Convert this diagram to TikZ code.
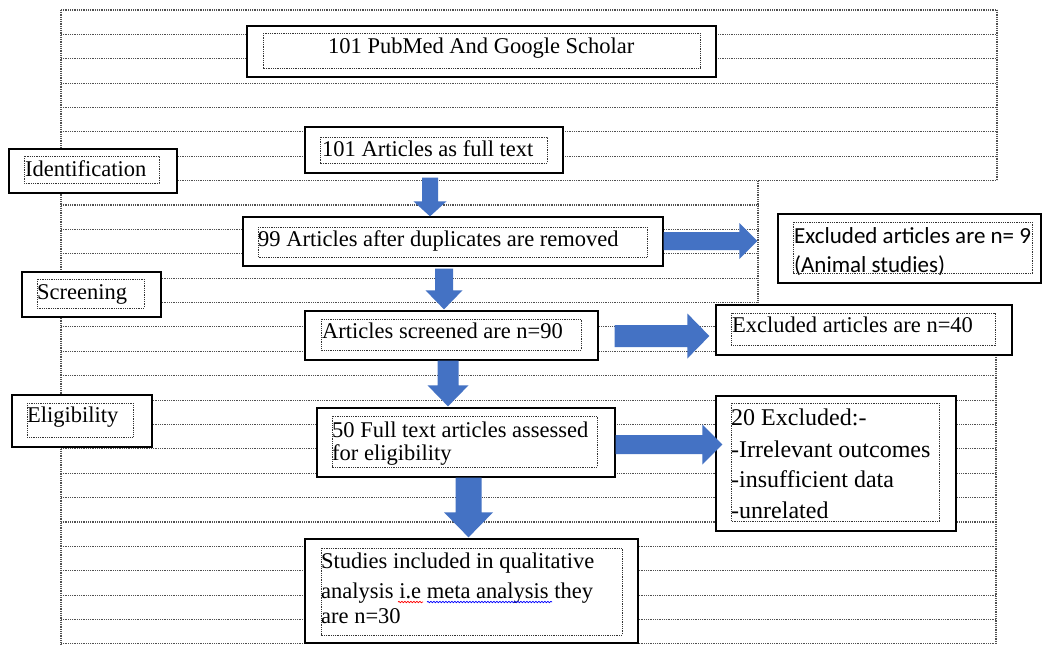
\documentclass[tikz,border=0pt]{standalone}
\usepackage{fontspec}
\setmainfont{Liberation Serif}
\newfontfamily\calibrifont{Carlito}
\usetikzlibrary{calc,decorations.pathmorphing}
\definecolor{arrowblue}{HTML}{4472C4}
\definecolor{ruleg}{HTML}{505050}
\newcommand\myvarrow[5]{\fill[arrowblue] let \p1=(#1), \p2=(#2) in (\x2-#3,\y1) -- (\x2-#3,\y2+#5) -- (\x2-#4,\y2+#5) -- (\x2,\y2) -- (\x2+#4,\y2+#5) -- (\x2+#3,\y2+#5) -- (\x2+#3,\y1) -- cycle;}
\newcommand\myharrow[5]{\fill[arrowblue] let \p1=(#1), \p2=(#2) in (\x1,\y2+#3) -- (\x2-#5,\y2+#3) -- (\x2-#5,\y2+#4) -- (\x2,\y2) -- (\x2-#5,\y2-#4) -- (\x2-#5,\y2-#3) -- (\x1,\y2-#3) -- cycle;}
\tikzset{
  ruleline/.style={draw=ruleg, line width=1.1pt, dash pattern=on 1pt off 0.8pt},
  innerdot/.style={draw=black!80, line width=0.9pt, dash pattern=on 1pt off 0.8pt},
  fbox/.style={draw=black, line width=1.3pt, fill=white, inner sep=0pt, rectangle},
  txt/.style={inner sep=0pt, anchor=base west, font=\fontsize{22.5}{27}\selectfont},
  txtb/.style={inner sep=0pt, anchor=base west, font=\fontsize{24}{28}\selectfont},
  txtc/.style={inner sep=0pt, anchor=base west, font=\calibrifont\fontsize{23}{28}\selectfont},
}
\begin{document}
\begin{tikzpicture}[x=1pt,y=-1pt]
\useasboundingbox (0,0) rectangle (1043,645);
\fill[white] (0,0) rectangle (1043,645);
% background ruled area
\foreach \k in {0,...,26}{
  \pgfmathsetmacro\yy{10+24.38*\k}
  \pgfmathsetmacro\xr{\k<8 ? 997 : (\k<13 ? 758 : 996)}
  \draw[ruleline] (61,\yy) -- (\xr,\yy);
}
\draw[ruleline] (61,10) -- (61,644);
\draw[ruleline] (997,10) -- (997,180.9);
\draw[ruleline] (758,180.9) -- (758,303);
\draw[ruleline] (996,310) -- (996,644);

% boxes
\node[fbox, minimum width=469pt, minimum height=51pt] (b1) at (481.5,51.5) {};
\node[fbox, minimum width=258pt, minimum height=46pt] (b2) at (434,150) {};
\node[fbox, minimum width=168pt, minimum height=44pt] (bI) at (93,171) {};
\node[fbox, minimum width=420pt, minimum height=49pt] (b4) at (453,241.5) {};
\node[fbox, minimum width=263pt, minimum height=69pt] (b5) at (909.5,248.5) {};
\node[fbox, minimum width=139pt, minimum height=45pt] (bS) at (91.5,294.5) {};
\node[fbox, minimum width=293pt, minimum height=49pt] (b7) at (451.5,335.5) {};
\node[fbox, minimum width=296pt, minimum height=50pt] (b8) at (864,330) {};
\node[fbox, minimum width=140pt, minimum height=52pt] (bE) at (82,421) {};
\node[fbox, minimum width=298pt, minimum height=69pt] (b10) at (466,442.5) {};
\node[fbox, minimum width=240pt, minimum height=135pt] (b11) at (836,463.5) {};
\node[fbox, minimum width=333pt, minimum height=104pt] (b12) at (471.5,591) {};

% inner dotted frames
\draw[innerdot] (263,33) rectangle (700,68);
\draw[innerdot] (320,137) rectangle (547,163);
\draw[innerdot] (24,156) rectangle (159,183);
\draw[innerdot] (258,227) rectangle (647,257);
\draw[innerdot] (793,222) rectangle (1032,273);
\draw[innerdot] (37,279) rectangle (144,308);
\draw[innerdot] (321,319) rectangle (581,350);
\draw[innerdot] (731,313) rectangle (995,345);
\draw[innerdot] (27,403) rectangle (133,437);
\draw[innerdot] (332,416) rectangle (597,467);
\draw[innerdot] (731,403) rectangle (939,521);
\draw[innerdot] (321,548) rectangle (622,635);

% texts
\node[txt] (t1) at (328,53) {101 PubMed And Google Scholar};
\node[txt] (t2) at (322,156) {101 Articles as full text};
\node[txt] (tI) at (25,176) {Identification};
\node[txt] (t4) at (258,246) {99 Articles after duplicates are removed};
\node[txtc] (t5a) at (794,243) {Excluded articles are n= 9};
\begin{scope}
\clip (780,250) rectangle (1040,275);
\node[txtc] (t5b) at (794,272) {(Animal studies)};
\end{scope}
\node[txt] (tS) at (37,299) {Screening};
\node[txt] (t7) at (322,338) {Articles screened are n=90};
\node[txt] (t8) at (732,332) {Excluded articles are n=40};
\node[txt] (tE) at (27,422) {Eligibility};
\node[txt] (t10a) at (332,437) {50 Full text articles assessed};
\node[txt] (t10b) at (332,460) {for eligibility};
\node[txtb] (t11a) at (731,425) {20 Excluded:-};
\node[txtb] (t11b) at (731,457) {-Irrelevant outcomes};
\node[txtb] (t11c) at (731,487) {-insufficient data};
\node[txtb] (t11d) at (731,518) {-unrelated};
\node[txt] (t12a) at (321,568) {Studies included in qualitative};
\node[txt] (t12b) at (321,598) {analysis i.e meta analysis they};
\node[txt] (t12c) at (321,623) {are n=30};
% spell-check marks
\draw[red, line width=0.7pt, decorate, decoration={snake, amplitude=0.7pt, segment length=3pt}] (398,602) -- (423,602);
\draw[blue, line width=0.7pt, decorate, decoration={snake, amplitude=0.7pt, segment length=3pt}] (427,602) -- (552,602);

% arrow end points
\coordinate (a1s) at ($(b2.south)+(-4,4)$);
\coordinate (a1e) at ($(b4.north)+(-23,0)$);
\coordinate (a2s) at ($(b4.south)+(-9,2)$);
\coordinate (a2e) at ($(b7.north)+(-7.5,-1)$);
\coordinate (a3s) at ($(b7.south)+(-4,0)$);
\coordinate (a3e) at ($(b10.north)+(-18,-1)$);
\coordinate (a4s) at ($(b10.south)+(2.5,0)$);
\coordinate (a4e) at ($(b12.north)+(-3,-1)$);
\coordinate (r1s) at ($(b4.east)+(0,0)$);
\coordinate (r1e) at ($(b5.west)+(-20,-7.5)$);
\coordinate (r2s) at ($(b7.east)+(16,0)$);
\coordinate (r2e) at ($(b8.west)+(-6,6)$);
\coordinate (r3s) at ($(b10.east)+(0,2)$);
\coordinate (r3e) at ($(b11.west)+(7,-19)$);

\myvarrow{a1s}{a1e}{8pt}{16.5pt}{15pt}
\myvarrow{a2s}{a2e}{9pt}{18.5pt}{19pt}
\myvarrow{a3s}{a3e}{10.5pt}{20.5pt}{21pt}
\myvarrow{a4s}{a4e}{13pt}{24.5pt}{25pt}
\myharrow{r1s}{r1e}{9pt}{18pt}{18pt}
\myharrow{r2s}{r2e}{11pt}{22.5pt}{22pt}
\myharrow{r3s}{r3e}{9.5pt}{20pt}{20pt}
\end{tikzpicture}
\end{document}
